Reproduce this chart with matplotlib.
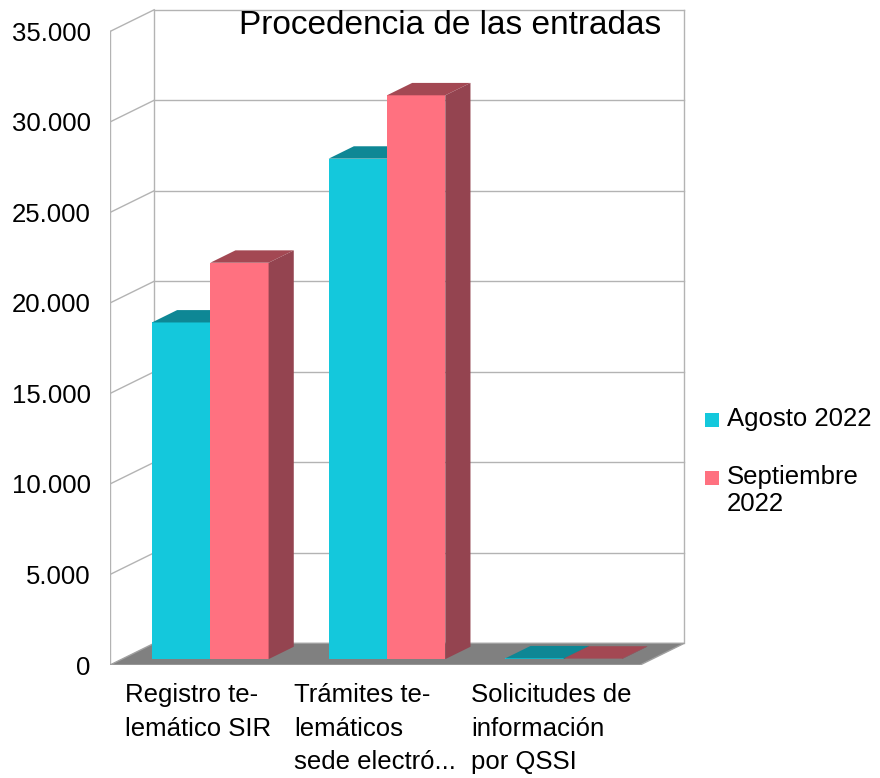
import matplotlib.pyplot as plt
from matplotlib.patches import Polygon, Rectangle

plt.rcParams['font.family'] = ['Liberation Sans', 'DejaVu Sans']

# datos
categorias = ['Registro te-\nlemático SIR', 'Trámites te-\nlemáticos\nsede electró...',
              'Solicitudes de\ninformación\npor QSSI']
series = ['Agosto 2022', 'Septiembre\n2022']
agosto = [18600, 27650, 45]
septiembre = [21900, 31150, 30]
ticks = [0, 5000, 10000, 15000, 20000, 25000, 30000, 35000]
tick_labels = ['0', '5.000', '10.000', '15.000', '20.000', '25.000', '30.000', '35.000']

# colores (frente, arriba, lado)
col_ago = ('#14c8dc', '#0e8795', '#0e7480')
col_sep = ('#ff7180', '#a34853', '#944450')

# profundidad oblicua (pseudo 3D)
DX, DY = 0.25, 1200      # desplazamiento total del suelo
d0, d1 = 0.27, 0.84      # profundidad de las barras
w = 0.33                 # ancho de cada barra
ymax = 35000

W, H = 880, 778
fig = plt.figure(figsize=(W / 100, H / 100), dpi=100)
ax = fig.add_axes([0.125, 0.14524, 0.6566, 0.8492])
ax.set_xlim(-0.5, 2.77)
ax.set_ylim(0, 36500)

grid = '#b3b3b3'
x_l, x_r = -0.5, 2.5
# suelo
ax.add_patch(Polygon([(x_l, 0), (x_r, 0), (x_r + DX, DY), (x_l + DX, DY)],
                     closed=True, fc='#808080', ec='#a0a0a0', lw=1, zorder=1))
# pared izquierda y fondo
for t in ticks[1:]:
    ax.plot([x_l, x_l + DX], [t, t + DY], color=grid, lw=1, zorder=0)
    ax.plot([x_l + DX, x_r + DX], [t + DY, t + DY], color=grid, lw=1, zorder=0)
ax.plot([x_l, x_l], [0, ymax], color=grid, lw=1, zorder=0)
ax.plot([x_l + DX, x_l + DX], [DY, ymax + DY], color=grid, lw=1, zorder=0)
ax.plot([x_r + DX, x_r + DX], [DY, ymax + DY], color=grid, lw=1, zorder=0)

ddx, ddy = (d1 - d0) * DX, (d1 - d0) * DY


def barra3d(x0, base, v, cols):
    top = base + v
    ax.bar(x0, v, width=w, bottom=base, align='edge', color=cols[0], lw=0, zorder=2)
    ax.add_patch(Polygon([(x0, top), (x0 + w, top), (x0 + w + ddx, top + ddy), (x0 + ddx, top + ddy)],
                         closed=True, fc=cols[1], lw=0, zorder=2))
    ax.add_patch(Polygon([(x0 + w, base), (x0 + w + ddx, base + ddy),
                          (x0 + w + ddx, top + ddy), (x0 + w, top)],
                         closed=True, fc=cols[2], lw=0, zorder=2))


for i in range(len(categorias)):
    xs = i + d0 * DX
    base = d0 * DY
    barra3d(xs - w, base, agosto[i], col_ago)
    barra3d(xs, base, septiembre[i], col_sep)
    ax.text(i, -1000, categorias[i], ha='center', va='top', multialignment='left',
            fontsize=18.5, linespacing=1.5, clip_on=False)

ax.set_yticks(ticks)
ax.set_yticklabels(tick_labels, fontsize=18.5)
ax.tick_params(axis='y', length=0, pad=14)
ax.set_xticks([])
for s in ax.spines.values():
    s.set_visible(False)

fig.text(450 / W, 1 - 25 / H, 'Procedencia de las entradas', ha='center', va='center', fontsize=24)

# leyenda (cuadro alineado con la primera línea del texto)
for k, (lab, col) in enumerate(zip(series, [col_ago[0], col_sep[0]])):
    yc = 420 + 58 * k
    fig.add_artist(Rectangle((705 / W, 1 - (yc + 7) / H), 14 / W, 14 / H,
                             transform=fig.transFigure, fc=col, lw=0))
    fig.text(727 / W, 1 - (yc - 13) / H, lab, ha='left', va='top',
             fontsize=18.5, linespacing=1.15)

plt.savefig('out.png', dpi=100)
plt.close()
